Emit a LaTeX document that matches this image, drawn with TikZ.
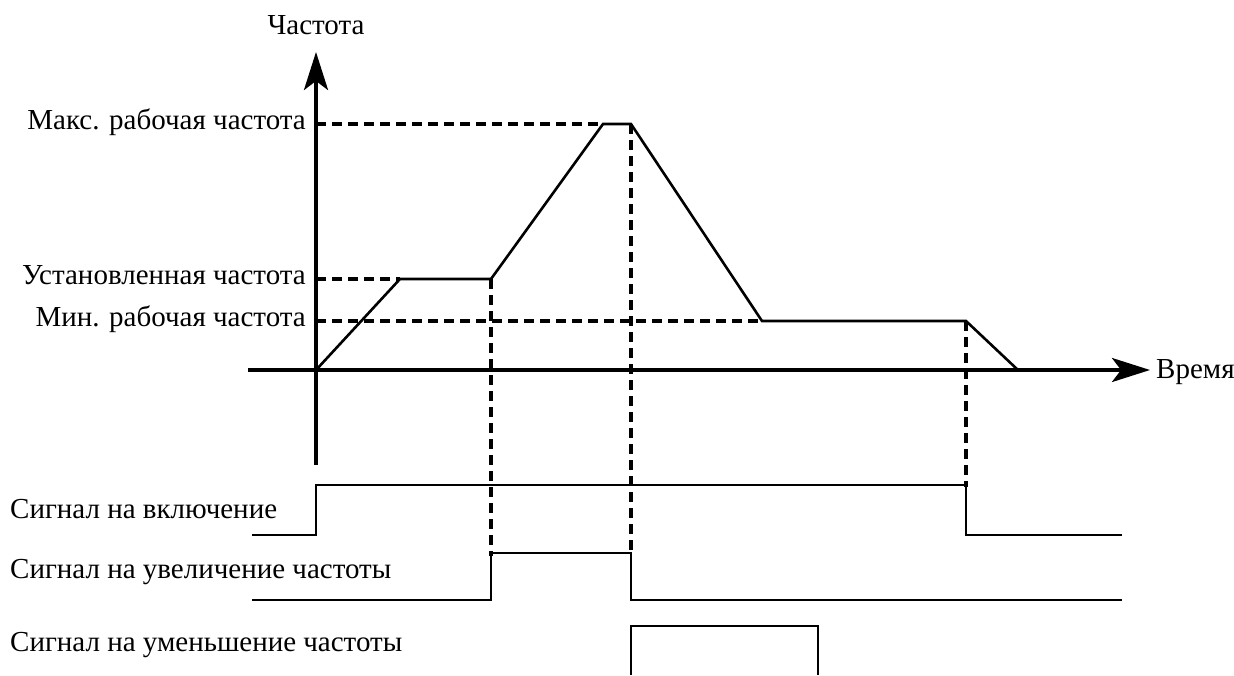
\documentclass[tikz,border=0pt]{standalone}
\usepackage{fontspec}
\setmainfont{Liberation Serif}
\usetikzlibrary{arrows.meta,positioning}

\begin{document}
\begin{tikzpicture}[x=1pt, y=-1pt,
    lbl/.style={font=\fontsize{29}{34}\selectfont, inner sep=0pt},
    axis/.style={line width=3.5pt, -{Stealth[length=38pt, width=24pt, inset=9pt]}},
    curve/.style={line width=2.6pt, line join=miter},
    guide/.style={line width=3.5pt, dash pattern=on 10pt off 6pt},
    sig/.style={line width=2.6pt, line join=miter}
]
\useasboundingbox (0,0) rectangle (1234,675);

% axes
\coordinate (O) at (316,370);
\coordinate (ybot) at (316,465);
\coordinate (ytop) at (316,52);
\coordinate (xleft) at (248,370);
\coordinate (xright) at (1150,370);
\draw[axis] (ybot) -- (ytop);
\draw[axis] (xleft) -- (xright);
\node[lbl, anchor=base] (fq) at (316,34) {Частота};
\node[lbl, anchor=base west] (tm) at (1156,378) {Время};

% levels on the frequency axis
\coordinate (ymax) at (316,124);
\coordinate (yset) at (316,279);
\coordinate (ymin) at (316,321);
\node[lbl, anchor=base east] (lmax) at (306,129) {Макс. рабочая частота};
\node[lbl, anchor=base east] (lset) at (306,284) {Установленная частота};
\node[lbl, anchor=base east] (lmin) at (306,326) {Мин. рабочая частота};

% frequency curve
\coordinate (c1) at (400,279);
\coordinate (c2) at (491,279);
\coordinate (c3) at (603,124);
\coordinate (c4) at (631,124);
\coordinate (c5) at (762,321);
\coordinate (c6) at (966,321);
\coordinate (c7) at (1018,370);
\draw[curve] (O) -- (c1) -- (c2) -- (c3) -- (c4) -- (c5) -- (c6) -- (c7);

% guide lines
\foreach \a/\b in {ymax/c3,yset/c1,ymin/c5}{\draw[guide] (\a) -- (\b);}
\draw[guide] (c2) -- (491,556);
\draw[guide] (c4) -- (631,556);
\draw[guide] (c6) -- (966,487);

% signals
\node[lbl, anchor=base west] (s1) at (10,518) {Сигнал на включение};
\node[lbl, anchor=base west] (s2) at (10,578) {Сигнал на увеличение частоты};
\node[lbl, anchor=base west] (s3) at (10,651) {Сигнал на уменьшение частоты};
\draw[sig] (252,535) -- (316,535) -- (316,485) -- (966,485) -- (966,535) -- (1122,535);
\draw[sig] (252,600) -- (491,600) -- (491,553) -- (631,553) -- (631,600) -- (1122,600);
\draw[sig] (631,675) -- (631,626) -- (818,626) -- (818,675);
\end{tikzpicture}
\end{document}
